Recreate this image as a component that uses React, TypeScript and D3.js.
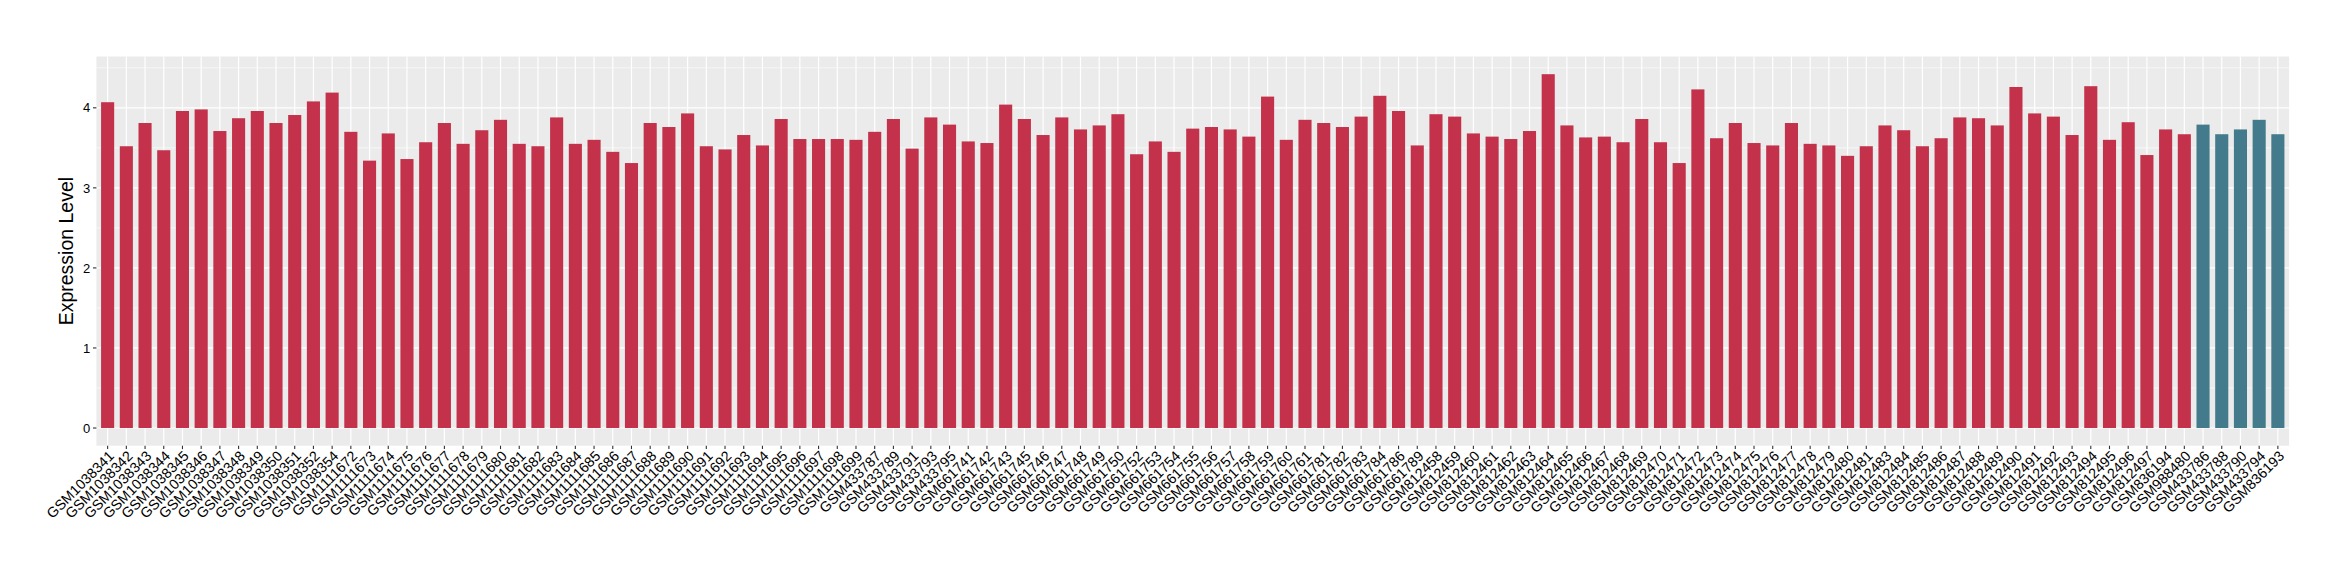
import React from "react";
import * as d3 from "d3";

const samples: string[] = [
  "GSM1038341","GSM1038342","GSM1038343","GSM1038344","GSM1038345","GSM1038346","GSM1038347","GSM1038348","GSM1038349","GSM1038350",
  "GSM1038351","GSM1038352","GSM1038354","GSM1111672","GSM1111673","GSM1111674","GSM1111675","GSM1111676","GSM1111677","GSM1111678",
  "GSM1111679","GSM1111680","GSM1111681","GSM1111682","GSM1111683","GSM1111684","GSM1111685","GSM1111686","GSM1111687","GSM1111688",
  "GSM1111689","GSM1111690","GSM1111691","GSM1111692","GSM1111693","GSM1111694","GSM1111695","GSM1111696","GSM1111697","GSM1111698",
  "GSM1111699","GSM433787","GSM433789","GSM433791","GSM433793","GSM433795","GSM661741","GSM661742","GSM661743","GSM661745",
  "GSM661746","GSM661747","GSM661748","GSM661749","GSM661750","GSM661752","GSM661753","GSM661754","GSM661755","GSM661756",
  "GSM661757","GSM661758","GSM661759","GSM661760","GSM661761","GSM661781","GSM661782","GSM661783","GSM661784","GSM661786",
  "GSM661789","GSM812458","GSM812459","GSM812460","GSM812461","GSM812462","GSM812463","GSM812464","GSM812465","GSM812466",
  "GSM812467","GSM812468","GSM812469","GSM812470","GSM812471","GSM812472","GSM812473","GSM812474","GSM812475","GSM812476",
  "GSM812477","GSM812478","GSM812479","GSM812480","GSM812481","GSM812483","GSM812484","GSM812485","GSM812486","GSM812487",
  "GSM812488","GSM812489","GSM812490","GSM812491","GSM812492","GSM812493","GSM812494","GSM812495","GSM812496","GSM812497",
  "GSM836194","GSM988480","GSM433786","GSM433788","GSM433790","GSM433794","GSM836193"
];

const expression: number[] = [
  4.07,3.52,3.81,3.47,3.96,3.98,3.71,3.87,3.96,3.81,
  3.91,4.08,4.19,3.70,3.34,3.68,3.36,3.57,3.81,3.55,
  3.72,3.85,3.55,3.52,3.88,3.55,3.60,3.45,3.31,3.81,
  3.76,3.93,3.52,3.48,3.66,3.53,3.86,3.61,3.61,3.61,
  3.60,3.70,3.86,3.49,3.88,3.79,3.58,3.56,4.04,3.86,
  3.66,3.88,3.73,3.78,3.92,3.42,3.58,3.45,3.74,3.76,
  3.73,3.64,4.14,3.60,3.85,3.81,3.76,3.89,4.15,3.96,
  3.53,3.92,3.89,3.68,3.64,3.61,3.71,4.42,3.78,3.63,
  3.64,3.57,3.86,3.57,3.31,4.23,3.62,3.81,3.56,3.53,
  3.81,3.55,3.53,3.40,3.52,3.78,3.72,3.52,3.62,3.88,
  3.87,3.78,4.26,3.93,3.89,3.66,4.27,3.60,3.82,3.41,
  3.73,3.67,3.79,3.67,3.73,3.85,3.67
];

// group per sample: "A" (red) for the first 112, "B" (teal) for the last 5
const groups: string[] = [...Array(112).fill("A"), ...Array(5).fill("B")];
const groupNames: string[] = ["A", "B"];
const groupColors: string[] = ["#C3314A", "#437A8C"];

const yTicks: number[] = [0, 1, 2, 3, 4];
const yMinor: number[] = [0.5, 1.5, 2.5, 3.5, 4.5];
const yTitle = "Expression Level";

const W = 2340, H = 580;
const panel = { left: 96.4, right: 2289.1, top: 56.5, bottom: 445.7 };
const FONT = "'Liberation Sans', Arial, Helvetica, sans-serif";
const TICK = 3.4;

export default function App() {
  const maxV = d3.max(expression) as number;
  const y = d3.scaleLinear()
    .domain([-0.05 * maxV, 1.05 * maxV])
    .range([panel.bottom, panel.top]);
  const x = d3.scalePoint<string>()
    .domain(samples)
    .range([panel.left, panel.right])
    .padding(0.6);
  const step = x.step();
  const barW = step * 0.7;
  const color = d3.scaleOrdinal<string, string>().domain(groupNames).range(groupColors);

  return (
    <svg width={W} height={H} style={{ position: "absolute", left: 0, top: 0, background: "#fff" }}>
      <rect x={panel.left} y={panel.top} width={panel.right - panel.left} height={panel.bottom - panel.top} fill="#EBEBEB" />
      {yMinor.filter(v => y(v) >= panel.top).map(v => (
        <line key={"mn" + v} x1={panel.left} x2={panel.right} y1={y(v)} y2={y(v)} stroke="#fff" strokeWidth={0.6} />
      ))}
      {yTicks.map(v => (
        <line key={"mj" + v} x1={panel.left} x2={panel.right} y1={y(v)} y2={y(v)} stroke="#fff" strokeWidth={1.2} />
      ))}
      {samples.map(s => (
        <line key={"vx" + s} x1={x(s)} x2={x(s)} y1={panel.top} y2={panel.bottom} stroke="#fff" strokeWidth={1.2} />
      ))}
      {samples.map((s, i) => (
        <rect key={"b" + s} x={(x(s) as number) - barW / 2} width={barW}
          y={y(expression[i])} height={y(0) - y(expression[i])}
          fill={color(groups[i])} />
      ))}
      {yTicks.map(v => (
        <g key={"yt" + v}>
          <line x1={panel.left - TICK} x2={panel.left} y1={y(v)} y2={y(v)} stroke="#333" strokeWidth={1.1} />
          <text x={panel.left - TICK - 2.8} y={y(v)} dy="0.36em" textAnchor="end" fontFamily={FONT} fontSize={13} fill="#000">{v}</text>
        </g>
      ))}
      {samples.map(s => (
        <g key={"xt" + s}>
          <line x1={x(s)} x2={x(s)} y1={panel.bottom} y2={panel.bottom + TICK} stroke="#333" strokeWidth={1.1} />
          <text transform={`translate(${x(s) as number},${panel.bottom + TICK + 0.5}) rotate(-45)`}
            dy="0.72em" textAnchor="end" fontFamily={FONT} fontSize={14.3} fill="#000">{s}</text>
        </g>
      ))}
      <text transform={`translate(72.5,${(panel.top + panel.bottom) / 2}) rotate(-90)`} textAnchor="middle"
        fontFamily={FONT} fontSize={19.5} fill="#000">{yTitle}</text>
    </svg>
  );
}
